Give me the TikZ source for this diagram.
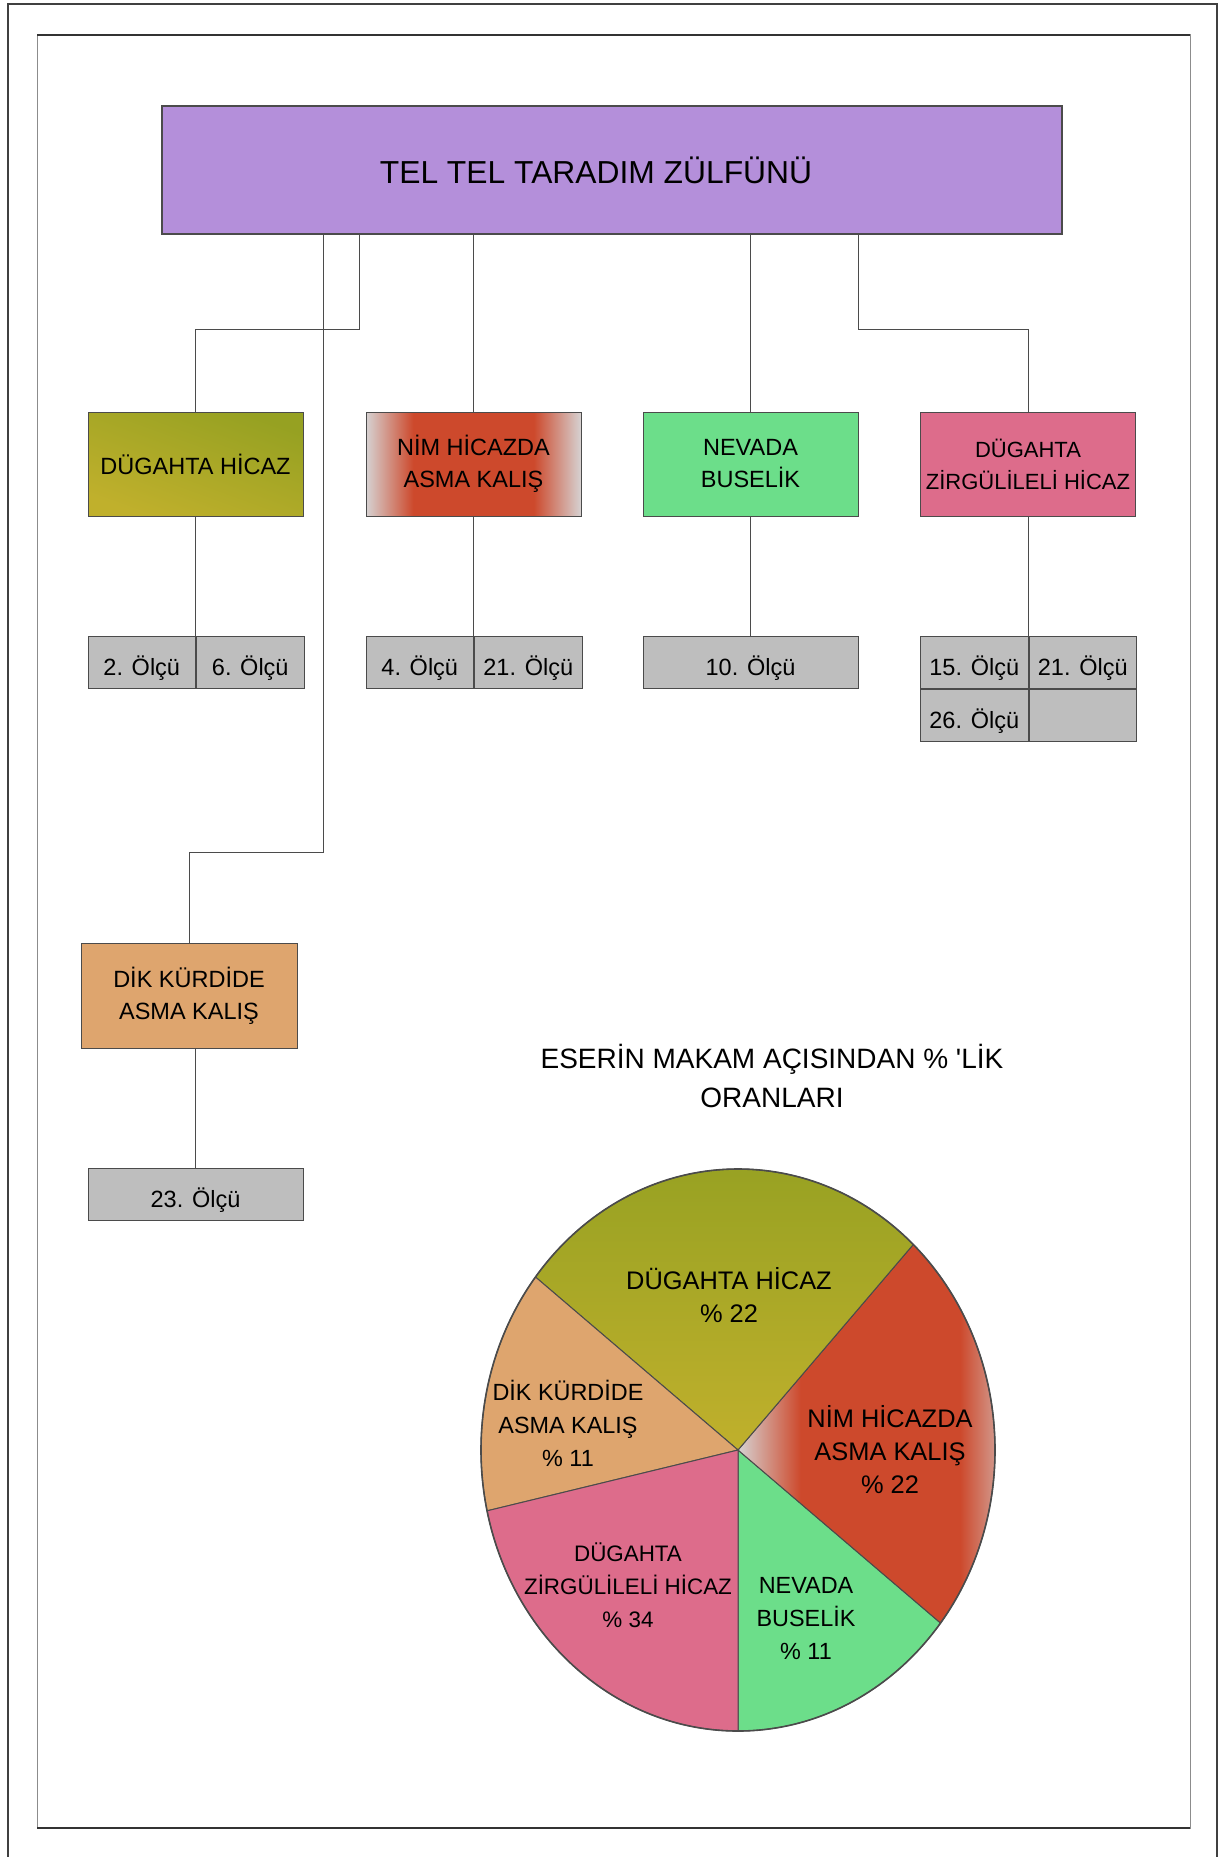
\documentclass[tikz,border=0pt]{standalone}
\usepackage{fontspec}
\setmainfont{Liberation Sans}
\usetikzlibrary{positioning}

\definecolor{rootfill}{RGB}{180,143,218}
\definecolor{olivedark}{RGB}{150,161,34}
\definecolor{olivelight}{RGB}{192,176,44}
\definecolor{nimred}{RGB}{205,73,44}
\definecolor{nimgray}{RGB}{214,210,210}
\definecolor{nevadafill}{RGB}{108,222,138}
\definecolor{zirgulfill}{RGB}{221,108,139}
\definecolor{dikfill}{RGB}{222,165,110}
\definecolor{olcufill}{RGB}{190,190,190}
\definecolor{edge}{RGB}{75,75,75}

%% gray - red - gray band used for the NIM HICAZDA areas
\pgfdeclarehorizontalshading{nimshade}{100bp}{%
  color(0bp)=(nimgray); color(25bp)=(nimgray); color(36bp)=(nimred);
  color(64bp)=(nimred); color(75bp)=(nimgray); color(100bp)=(nimgray)}

\begin{document}
\begin{tikzpicture}[
    x=0.5pt, y=-0.5pt,
    every node/.style={font=\fontsize{11.75}{16}\selectfont},
    rootbox/.style={
        rectangle, fill=rootfill, draw=edge, line width=0.7pt,
        minimum width=450pt, minimum height=64pt,
        font=\fontsize{15.9}{19}\selectfont
    },
    makambox/.style={
        rectangle, draw=edge, line width=0.5pt,
        minimum width=107.5pt, minimum height=52pt,
        align=center, inner sep=0pt
    },
    olcu/.style={
        rectangle, fill=olcufill, draw=edge, line width=0.5pt,
        minimum width=53.75pt, minimum height=26pt, inner sep=0pt,
        text height=13pt, text depth=0pt
    },
    olcuwide/.style={olcu, minimum width=107.5pt},
    link/.style={draw=edge, line width=0.5pt},
    slice/.style={draw=edge, line width=0.5pt},
    pielabel/.style={align=center, font=\fontsize{#1}{16.5}\selectfont},
    pielabel/.default=12
]
\useasboundingbox (0,0) rectangle (1223,1857);

%% ── Page frames ────────────────────────────────────────────────────
\draw[black!75, line width=0.8pt] (8,1857) -- (8,4) -- (1217,4) -- (1217,1857);
\draw[black!45, line width=0.5pt] (37,35) rectangle (1190,1828);
\draw[black!80, line width=1pt] (37,35) -- (1190,35);
\draw[black!80, line width=1pt] (37,1828) -- (1190,1828);

%% ── Tree of makams ─────────────────────────────────────────────────
\def\rowBox{464}
\def\rowOlcu{662}
\def\colA{195.5}
\def\colB{473.5}
\def\colC{750.5}
\def\colD{1028}

% title sits a little left of the box centre
\node[rootbox] (root) at (612,170) {TEL TEL TARADIM ZÜLFÜNÜ\hspace*{16pt}};

\node[makambox, top color=olivedark, bottom color=olivelight, shading angle=-20]
    (dhicaz) at (\colA,\rowBox) {DÜGAHTA HİCAZ};
\node[makambox, shade, shading=nimshade]
    (nim) at (\colB,\rowBox) {NİM HİCAZDA\\ASMA KALIŞ};
\node[makambox, fill=nevadafill]
    (nevada) at (\colC,\rowBox) {NEVADA\\BUSELİK};
\node[makambox, fill=zirgulfill, font=\fontsize{11}{16}\selectfont]
    (zirgul) at (\colD,\rowBox) {DÜGAHTA\\ZİRGÜLİLELİ HİCAZ};
\node[makambox, fill=dikfill, minimum width=108pt, minimum height=52.5pt]
    (dik) at (189,995.5) {DİK KÜRDİDE\\ASMA KALIŞ};

%% measure numbers under each makam
\node[olcu] (m2) at (141.75,\rowOlcu) {2. Ölçü};
\node[olcu, right=0pt of m2] (m6) {6. Ölçü};

\node[olcu] (m4) at (419.75,\rowOlcu) {4. Ölçü};
\node[olcu, right=0pt of m4] (m21a) {21. Ölçü};

\node[olcuwide] (m10) at (\colC,\rowOlcu) {10. Ölçü};

\node[olcu] (m15) at (974.25,\rowOlcu) {15. Ölçü};
\node[olcu, right=0pt of m15] (m21b) {21. Ölçü};
\node[olcu, below=0pt of m15] (m26) {26. Ölçü};
\node[olcu, right=0pt of m26] (mblank) {};

\node[olcuwide] (m23) at (195.5,1194) {23. Ölçü};

%% elbow points of the branches
\coordinate (jA) at (359,329);
\coordinate (jD) at (858,329);
\coordinate (jE) at (323,852);

\draw[link] (root.south -| jA) -- (jA) -| (dhicaz.north);
\draw[link] (nim.north |- root.south) -- (nim.north);
\draw[link] (nevada.north |- root.south) -- (nevada.north);
\draw[link] (root.south -| jD) -- (jD) -| (zirgul.north);
\draw[link] (root.south -| jE) -- (jE) -| (dik.north);

\draw[link] (dhicaz.south) -- (dhicaz.south |- m2.north);
\draw[link] (nim.south) -- (nim.south |- m4.north);
\draw[link] (nevada.south) -- (m10.north);
\draw[link] (zirgul.south) -- (zirgul.south |- m15.north);
\draw[link] (m23.north |- dik.south) -- (m23.north);

%% ── Pie chart ──────────────────────────────────────────────────────
\node[align=center, font=\fontsize{14}{19.5}\selectfont]
    (title) at (772,1076) {ESERİN MAKAM AÇISINDAN \% \textquotesingle LİK\\ORANLARI};

\begin{scope}[shift={(738,1450)}]
  % NEVADA BUSELIK
  \filldraw[slice, fill=nevadafill] (0,0) -- (90:257 and 281)
      arc[start angle=90, end angle=38, x radius=257, y radius=281] -- cycle;
  % NIM HICAZDA ASMA KALIS
  \shadedraw[slice, shading=nimshade] (0,0) -- (38:257 and 281)
      arc[start angle=38, end angle=-47, x radius=257, y radius=281] -- cycle;
  % DUGAHTA HICAZ
  \shadedraw[slice, top color=olivedark, bottom color=olivelight] (0,0) -- (-47:257 and 281)
      arc[start angle=-47, end angle=-142, x radius=257, y radius=281] -- cycle;
  % DIK KURDIDE ASMA KALIS
  \filldraw[slice, fill=dikfill] (0,0) -- (-142:257 and 281)
      arc[start angle=-142, end angle=-192.5, x radius=257, y radius=281] -- cycle;
  % DUGAHTA ZIRGULILELI HICAZ
  \filldraw[slice, fill=zirgulfill] (0,0) -- (-192.5:257 and 281)
      arc[start angle=-192.5, end angle=-270, x radius=257, y radius=281] -- cycle;
  \draw[edge, line width=0.8pt] (0,0) ellipse[x radius=257, y radius=281];
\end{scope}

\node[pielabel=12.7] (pDH)  at (729,1295) {DÜGAHTA HİCAZ\\\% 22};
\node[pielabel=12.7] (pNIM) at (890,1450) {NİM HİCAZDA\\ASMA KALIŞ\\\% 22};
\node[pielabel=11.7] (pNEV) at (806,1618) {NEVADA\\BUSELİK\\\% 11};
\node[pielabel=11.2] (pZIR) at (628,1585) {DÜGAHTA\\ZİRGÜLİLELİ HİCAZ\\\% 34};
\node[pielabel=11.7] (pDIK) at (568,1423) {DİK KÜRDİDE\\ASMA KALIŞ\\\% 11};

\end{tikzpicture}
\end{document}
